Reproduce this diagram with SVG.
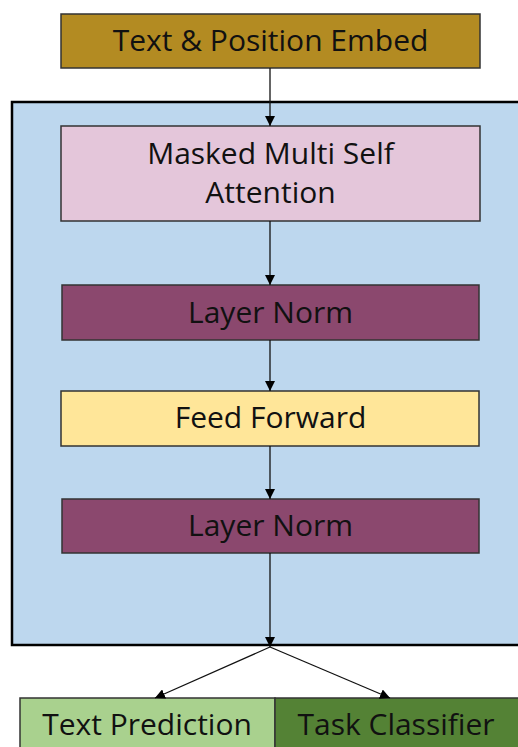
<svg xmlns="http://www.w3.org/2000/svg" width="518" height="747" viewBox="0 0 518 747">
  <defs>
    <marker id="arrow" viewBox="0 0 10 10" refX="10" refY="5" markerWidth="10" markerHeight="10" markerUnits="userSpaceOnUse" orient="auto">
      <path d="M0,0 L10,5 L0,10 z" fill="#000"/>
    </marker>
  </defs>
  <style>
    .box { stroke: #333; stroke-width: 1.5; }
    .label { font-family: "Open Sans", "Noto Sans", sans-serif; font-size: 30px; fill: #111; text-anchor: middle; }
    .edge { stroke: #111; stroke-width: 1.3; fill: none; marker-end: url(#arrow); }
  </style>
  <rect width="518" height="747" fill="#fff"/>

  <g id="decoder-block">
    <rect x="12" y="102" width="510" height="543" fill="#BDD7EE" stroke="#000" stroke-width="2.5"/>
  </g>

  <g id="embed">
    <rect class="box" x="61" y="14" width="419" height="54" fill="#B38B22"/>
    <text class="label" x="270.5" y="51">Text &amp; Position Embed</text>
  </g>

  <g id="attention">
    <rect class="box" x="61" y="126" width="419" height="95" fill="#E4C6DA"/>
    <text class="label" x="270.5" y="164">Masked Multi Self</text>
    <text class="label" x="270.5" y="203">Attention</text>
  </g>

  <g id="norm1">
    <rect class="box" x="62" y="285" width="417" height="55" fill="#8B486E"/>
    <text class="label" x="270.5" y="323">Layer Norm</text>
  </g>

  <g id="feed-forward">
    <rect class="box" x="61" y="391" width="418" height="55" fill="#FFE699"/>
    <text class="label" x="270.5" y="428">Feed Forward</text>
  </g>

  <g id="norm2">
    <rect class="box" x="62" y="499" width="417" height="54" fill="#8B486E"/>
    <text class="label" x="270.5" y="536">Layer Norm</text>
  </g>

  <g id="text-prediction">
    <rect class="box" x="20" y="698" width="255" height="60" fill="#A9D18E"/>
    <text class="label" x="147" y="735">Text Prediction</text>
  </g>

  <g id="task-classifier">
    <rect class="box" x="275" y="698" width="255" height="60" fill="#548235"/>
    <text class="label" x="396" y="735">Task Classifier</text>
  </g>

  <g id="connectors">
    <line class="edge" x1="270" y1="68" x2="270" y2="126"/>
    <line class="edge" x1="270" y1="221" x2="270" y2="285"/>
    <line class="edge" x1="270" y1="340" x2="270" y2="391"/>
    <line class="edge" x1="270" y1="446" x2="270" y2="499"/>
    <line class="edge" x1="270" y1="553" x2="270" y2="647"/>
    <line class="edge" x1="270" y1="647" x2="155" y2="698"/>
    <line class="edge" x1="270" y1="647" x2="390" y2="698"/>
  </g>
</svg>
